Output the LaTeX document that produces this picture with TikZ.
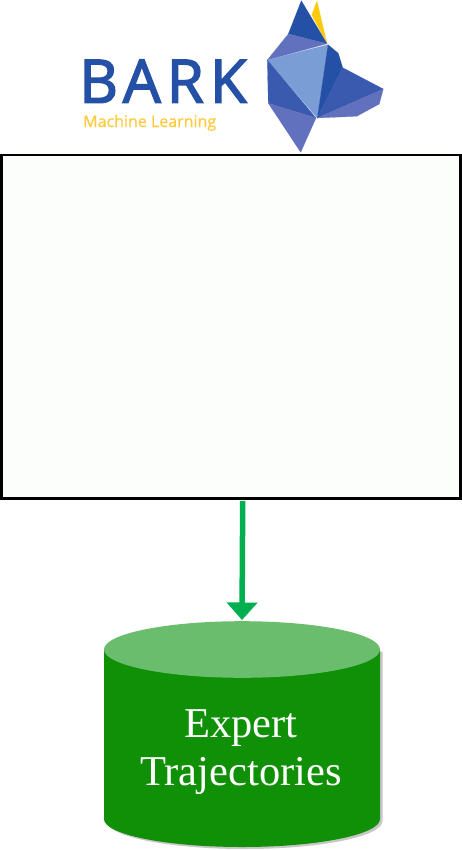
\documentclass[tikz,border=0pt]{standalone}
\usepackage{fontspec}
\setmainfont{Liberation Serif}
\newfontfamily\logofont[LetterSpace=10,FakeBold=2.5]{Open Sans}
\newfontfamily\subfont[FakeBold=0.6]{Open Sans}
\usetikzlibrary{arrows.meta,calc}
\definecolor{logoblue}{HTML}{2450A5}
\definecolor{logodeep}{HTML}{3A5AAF}
\definecolor{logopurple}{HTML}{6271BE}
\definecolor{logolight}{HTML}{7A9DD6}
\definecolor{logoyellow}{HTML}{FFC90E}
\definecolor{subyellow}{HTML}{FFCB3D}
\definecolor{boxfill}{HTML}{FCFEFB}
\definecolor{storegreen}{HTML}{0F9006}
\definecolor{storetop}{HTML}{6BBD6E}
\definecolor{arrowgreen}{HTML}{00B050}
\tikzset{
  x=1pt,y=-1pt,
  facet/.style={fill=#1,draw=#1,line width=0.15pt},
  panel/.style={draw=black,line width=2.4pt,fill=boxfill,minimum width=459pt,minimum height=343.5pt,inner sep=0pt,outer sep=0pt},
  store/.style={draw=none,minimum width=276pt,minimum height=226pt,inner sep=0pt,outer sep=0pt},
  flow/.style={draw=arrowgreen,line width=5.5pt,-{Triangle[length=17.5pt,width=30pt,fill=arrowgreen]},shorten >=1pt},
}
\begin{document}
\begin{tikzpicture}
\useasboundingbox (0,0) rectangle (462,851);
\fill[white] (0,0) rectangle (462,851);
% logo
\path[facet=logoyellow] (317,1) -- (311.7,15) -- (327,43.7) -- cycle;
\path[facet=logoblue] (301.3,0.7) -- (288.3,34) -- (327,43.7) -- cycle;
\path[facet=logopurple] (288.3,34) -- (327,43.7) -- (267.3,60) -- cycle;
\path[facet=logolight] (267.3,60) -- (328,44.7) -- (317.3,118) -- cycle;
\path[facet=logoblue] (328,44.7) -- (338.3,53.3) -- (342.7,67.7) -- (317.3,118) -- cycle;
\path[facet=logodeep] (342.7,67.7) -- (383.3,89) -- (317.3,118) -- cycle;
\path[facet=logopurple] (383.3,89) -- (379.3,104) -- (356.7,116.3) -- (317.3,118) -- cycle;
\path[facet=logodeep] (267.3,60) -- (268.3,103.3) -- (316,118) -- cycle;
\path[facet=logopurple] (268.3,103.3) -- (316,118) -- (300.7,152.3) -- cycle;
\node[anchor=base west,inner sep=0pt,text=logoblue,font=\logofont\fontsize{60}{60}\selectfont] (bark) at (79,102.7) {BARK};
\node[anchor=base west,inner sep=0pt,text=subyellow,font=\subfont\fontsize{16}{16}\selectfont] (ml) at (83,127) {Machine Learning};
% panel
\node[panel] (panel) at (231,326.7) {};
% store
\fill[black!22] (106.5,651.5) -- (106.5,821) arc[start angle=180,end angle=0,x radius=138,y radius=28] -- (382.5,651.5) -- cycle;
\fill[storegreen] (104,649.5) -- (104,819) arc[start angle=180,end angle=0,x radius=138,y radius=28] -- (380,649.5) -- cycle;
\fill[storetop] (242,649.5) ellipse[x radius=138,y radius=28.3];
\node[store] (traj) at (242,734) {};
\node[align=center,text=white,inner sep=0pt,font=\fontsize{42.5}{48}\selectfont] (label) at (241,752) {Expert\\Trajectories};
% connector
\coordinate (out) at ($(panel.south)+(11.7,2.5)$);
\draw[flow] (out) -- (traj.north);
\end{tikzpicture}
\end{document}
